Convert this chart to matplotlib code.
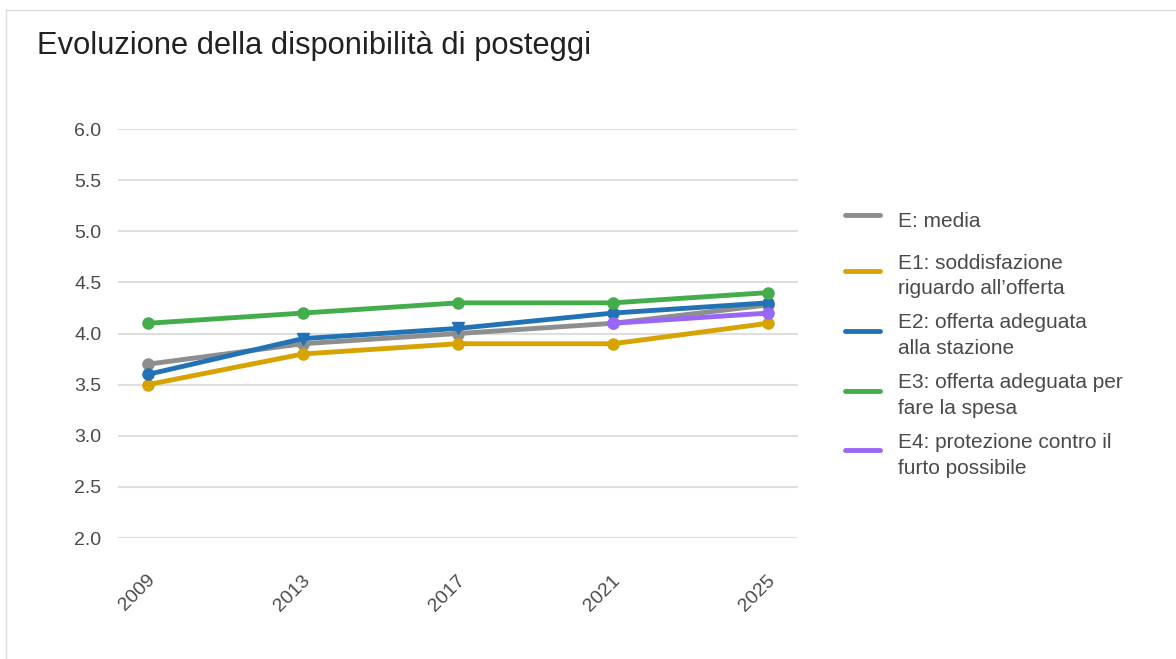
import matplotlib.pyplot as plt
from matplotlib.lines import Line2D
import matplotlib.transforms as mtransforms
import numpy as np

plt.rcParams['font.family'] = ['Liberation Sans', 'DejaVu Sans']

years = [2009, 2013, 2017, 2021, 2025]
e_media = [3.7, 3.9, 4.0, 4.1, 4.28]
e1 = [3.5, 3.8, 3.9, 3.9, 4.1]
e2 = [3.6, 3.95, 4.05, 4.2, 4.3]
e3 = [4.1, 4.2, 4.3, 4.3, 4.4]
e4 = [np.nan, np.nan, np.nan, 4.1, 4.2]

labels = ['E: media',
          'E1: soddisfazione\nriguardo all\u2019offerta',
          'E2: offerta adeguata\nalla stazione',
          'E3: offerta adeguata per\nfare la spesa',
          'E4: protezione contro il\nfurto possibile']
yticks = [2.0, 2.5, 3.0, 3.5, 4.0, 4.5, 5.0, 5.5, 6.0]

colors = ['#8e8e8e', '#d6a300', '#2273b5', '#43ad4c', '#9a66f5']
e2_marks = ['o', 'v', 'v', 'o', 'o']

fig = plt.figure(figsize=(11.76, 6.59), dpi=100)
ax = fig.add_axes([0.1003, 0.1836, 0.5782, 0.6206])

series = [e_media, e1, e2, e3, e4]
for vals, col, lab in zip(series, colors, labels):
    ax.plot(years, vals, color=col, lw=3.5, label=lab, solid_capstyle='round')
    if vals is e2:
        for x, y, m in zip(years, vals, e2_marks):
            ax.plot(x, y, marker=m, color=col, ms=9 if m == 'v' else 8)
    else:
        ax.plot(years, vals, 'o', color=col, ms=8)

ax.set_xlim(2009 - 0.77, 2025 + 0.77)
ax.set_ylim(2.0, 6.0)
ax.set_yticks(yticks)
ax.set_yticklabels([f'{v:.1f}' for v in yticks])
ax.set_xticks(years)
ax.set_xticklabels([str(y) for y in years], rotation=45, ha='right', va='center',
                   rotation_mode='anchor')
ax.tick_params(axis='both', length=0, labelsize=14, colors='#4a4a4a')
ax.tick_params(axis='y', pad=12)
ax.tick_params(axis='x', pad=28.5)
shift = mtransforms.ScaledTranslation(5 / 100, 0, fig.dpi_scale_trans)
for t in ax.get_xticklabels():
    t.set_transform(t.get_transform() + shift)
ax.grid(axis='y', color='#dedede', lw=1.5)
ax.set_axisbelow(True)
for s in ax.spines.values():
    s.set_visible(False)

fig.text(37 / 1176, 1 - 46 / 659, 'Evoluzione della disponibilità di posteggi',
         fontsize=22.2, color='#222222', va='center', ha='left')

leg = ax.legend(loc='center left', bbox_to_anchor=(845 / 1176, 1 - 340 / 659),
                bbox_transform=fig.transFigure, frameon=False, fontsize=15,
                handlelength=1.7, handletextpad=0.85, labelspacing=0.72,
                handleheight=2.3, borderpad=0, borderaxespad=0, labelcolor='#4a4a4a')
for t in leg.get_texts():
    t.set_linespacing(1.45)

# thin frame at top and left
fig.add_artist(Line2D([6 / 1176, 1], [1 - 10 / 659] * 2, color='#dddddd', lw=1))
fig.add_artist(Line2D([6 / 1176] * 2, [0, 1 - 10 / 659], color='#dddddd', lw=1))

fig.savefig('out.png', dpi=100)
